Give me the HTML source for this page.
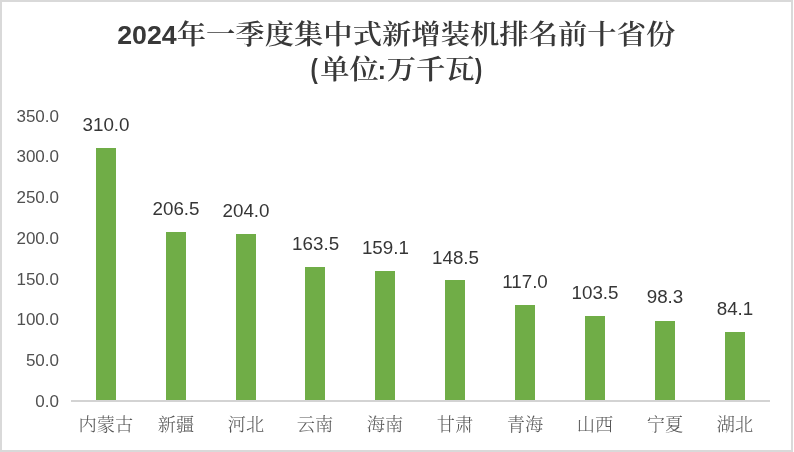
<!DOCTYPE html>
<html lang="zh-CN">
<head>
<meta charset="utf-8">
<title>2024年一季度集中式新增装机排名前十省份</title>
<style>
html,body{margin:0;padding:0;background:#fff;}
body{width:794px;height:452px;overflow:hidden;position:relative;}
svg{position:absolute;left:0;top:0;display:block;}
.lat{font-family:"Liberation Sans",sans-serif;}
.cjk{font-family:"Liberation Serif","Noto Serif CJK SC",serif;}
.ttl{font-weight:bold;fill:#383838;}
.yl{fill:#505050;text-anchor:end;}
.dl{fill:#363636;text-anchor:middle;}
.ct{fill:#555555;text-anchor:middle;font-weight:300;}
</style>
</head>
<body>
<svg width="794" height="452" viewBox="0 0 794 452">
<rect x="0" y="0" width="794" height="452" fill="#ffffff"/>
<rect x="0" y="0" width="793" height="2" fill="#d9d9d9"/>
<rect x="0" y="0" width="2" height="452" fill="#d9d9d9"/>
<rect x="0" y="450" width="793" height="2" fill="#d9d9d9"/>
<rect x="791" y="0" width="2" height="452" fill="#d9d9d9"/>
<text class="ttl lat" x="117.2" y="44.0" font-size="26.0" textLength="59.5" lengthAdjust="spacingAndGlyphs">2024</text>
<text class="ttl cjk" transform="scale(1,0.92)" x="176.70 206.03 235.36 264.69 294.02 323.35 352.68 382.01 411.34 440.67 470.00 499.33 528.66 557.99 587.32 616.65 645.98" y="48.37" font-size="29.33" style="font-weight:600">年一季度集中式新增装机排名前十省份</text>
<text class="ttl lat" x="310.6" y="78.4" font-size="27.6" textLength="7.3" lengthAdjust="spacingAndGlyphs">(</text>
<text class="ttl cjk" transform="scale(1,0.92)" x="320.20 349.53" y="86.41" font-size="29.33" style="font-weight:600">单位</text>
<text class="ttl lat" x="377.5" y="79.0" font-size="26.0">:</text>
<text class="ttl cjk" transform="scale(1,0.92)" x="386.70 416.03 445.36" y="86.41" font-size="29.33" style="font-weight:600">万千瓦</text>
<text class="ttl lat" x="475.0" y="78.4" font-size="27.6" textLength="7.3" lengthAdjust="spacingAndGlyphs">)</text>
<rect x="71" y="400" width="699" height="2" fill="#d3d3d3"/>
<text class="lat yl" x="59.0" y="406.60" font-size="17.0">0.0</text>
<text class="lat yl" x="59.0" y="365.93" font-size="17.0">50.0</text>
<text class="lat yl" x="59.0" y="325.25" font-size="17.0">100.0</text>
<text class="lat yl" x="59.0" y="284.58" font-size="17.0">150.0</text>
<text class="lat yl" x="59.0" y="243.90" font-size="17.0">200.0</text>
<text class="lat yl" x="59.0" y="203.22" font-size="17.0">250.0</text>
<text class="lat yl" x="59.0" y="161.85" font-size="17.0">300.0</text>
<text class="lat yl" x="59.0" y="121.87" font-size="17.0">350.0</text>
<rect x="96" y="148" width="20" height="252" fill="#70ad47"/>
<text class="lat dl" x="106" y="131.01" font-size="18.8">310.0</text>
<text class="cjk ct" x="105.9" y="430.5" font-size="18.2">内蒙古</text>
<rect x="166" y="232" width="20" height="168" fill="#70ad47"/>
<text class="lat dl" x="176" y="215.21" font-size="18.8">206.5</text>
<text class="cjk ct" x="175.9" y="430.5" font-size="18.2">新疆</text>
<rect x="236" y="234" width="20" height="166" fill="#70ad47"/>
<text class="lat dl" x="246" y="217.25" font-size="18.8">204.0</text>
<text class="cjk ct" x="245.9" y="430.5" font-size="18.2">河北</text>
<rect x="305" y="267" width="20" height="133" fill="#70ad47"/>
<text class="lat dl" x="315.6" y="250.19" font-size="18.8">163.5</text>
<text class="cjk ct" x="314.9" y="430.5" font-size="18.2">云南</text>
<rect x="375" y="271" width="20" height="129" fill="#70ad47"/>
<text class="lat dl" x="385.4" y="253.77" font-size="18.8">159.1</text>
<text class="cjk ct" x="384.9" y="430.5" font-size="18.2">海南</text>
<rect x="445" y="280" width="20" height="120" fill="#70ad47"/>
<text class="lat dl" x="455.5" y="263.60" font-size="18.8">148.5</text>
<text class="cjk ct" x="454.9" y="430.5" font-size="18.2">甘肃</text>
<rect x="515" y="305" width="20" height="95" fill="#70ad47"/>
<text class="lat dl" x="525" y="288.02" font-size="18.8">117.0</text>
<text class="cjk ct" x="524.9" y="430.5" font-size="18.2">青海</text>
<rect x="585" y="316" width="20" height="84" fill="#70ad47"/>
<text class="lat dl" x="595" y="299.00" font-size="18.8">103.5</text>
<text class="cjk ct" x="594.9" y="430.5" font-size="18.2">山西</text>
<rect x="655" y="321" width="20" height="79" fill="#70ad47"/>
<text class="lat dl" x="665" y="303.23" font-size="18.8">98.3</text>
<text class="cjk ct" x="664.9" y="430.5" font-size="18.2">宁夏</text>
<rect x="725" y="332" width="20" height="68" fill="#70ad47"/>
<text class="lat dl" x="735" y="314.78" font-size="18.8">84.1</text>
<text class="cjk ct" x="734.9" y="430.5" font-size="18.2">湖北</text>
</svg>
</body>
</html>
